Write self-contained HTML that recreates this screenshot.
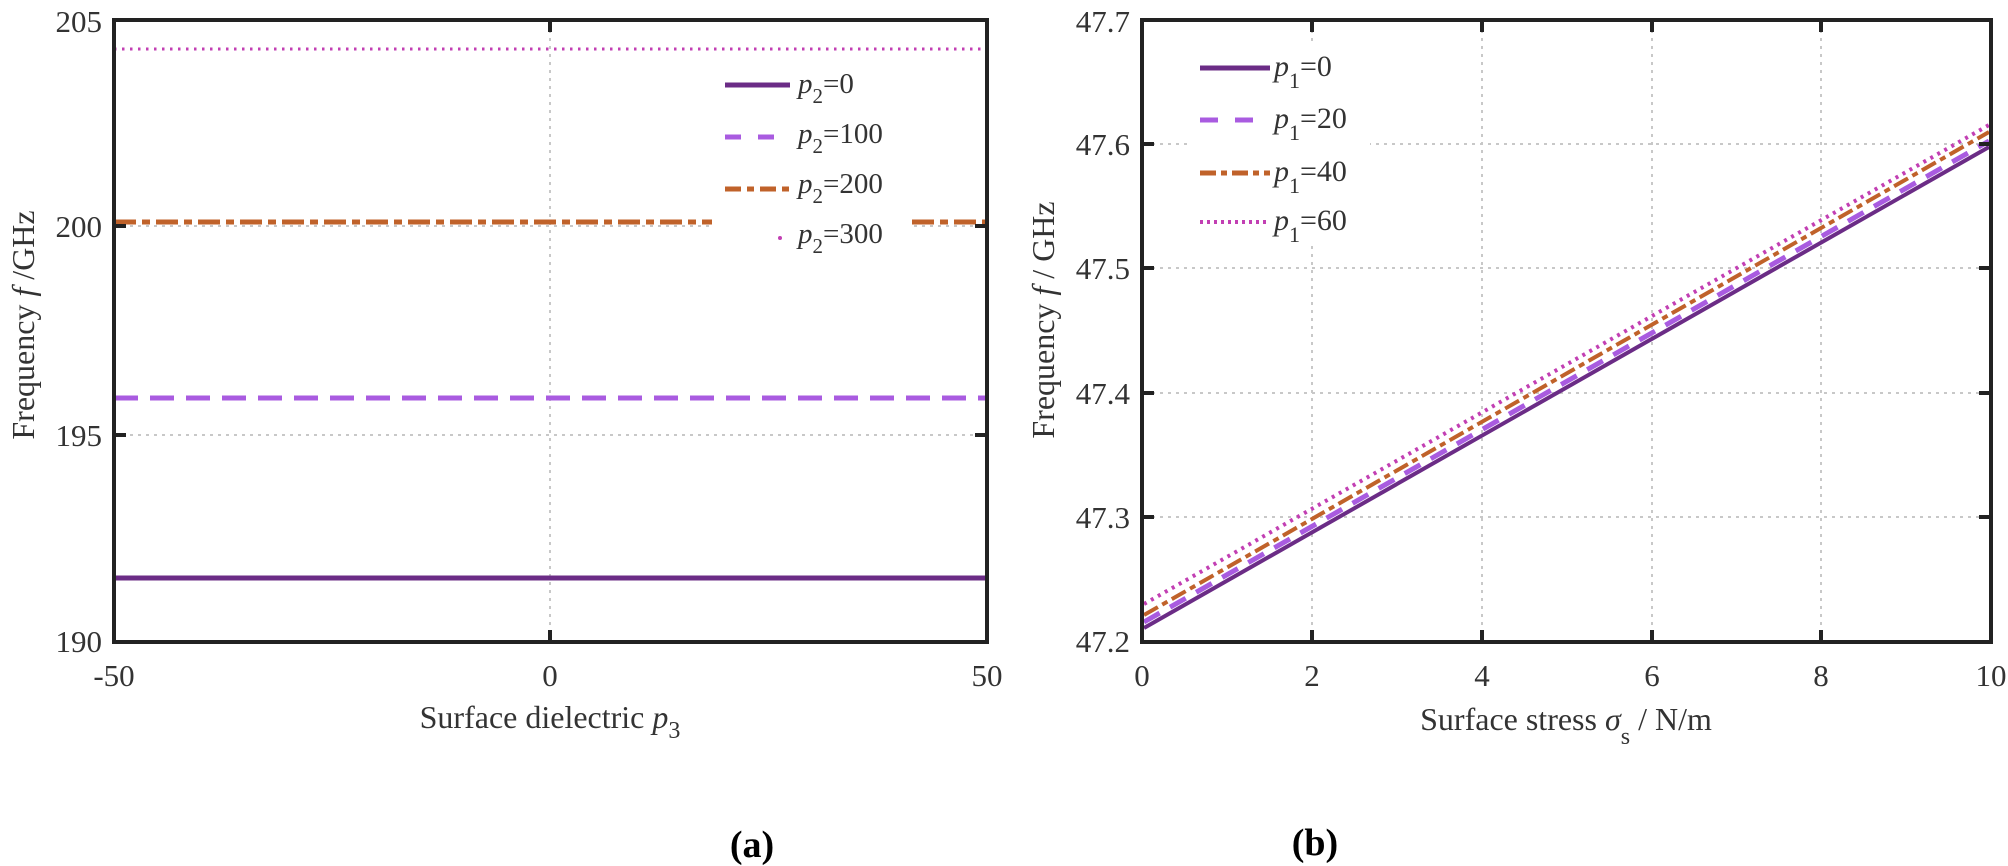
<!DOCTYPE html>
<html><head><meta charset="utf-8"><style>
html,body{margin:0;padding:0;background:#fff;}
svg{display:block;}
text{font-family:"Liberation Serif",serif;fill:#333;}
</style></head><body>
<svg width="2008" height="866" viewBox="0 0 2008 866" xmlns="http://www.w3.org/2000/svg">
<!-- LEFT PLOT -->
<g>
  <!-- grid -->
  <g stroke="#c8c8c8" stroke-width="2" stroke-dasharray="3,5">
    <line x1="550" y1="22" x2="550" y2="640"/>
    <line x1="114" y1="226" x2="986" y2="226"/>
    <line x1="114" y1="435" x2="986" y2="435"/>
  </g>
  <!-- series -->
  <line x1="114" y1="49" x2="986" y2="49" stroke="#c23fb3" stroke-width="3" stroke-dasharray="2.5,5.5"/>
  <line x1="114" y1="222" x2="986" y2="222" stroke="#c0622a" stroke-width="5" stroke-dasharray="22,6,8,6"/>
  <line x1="114" y1="398" x2="986" y2="398" stroke="#a95be0" stroke-width="5" stroke-dasharray="24,12"/>
  <line x1="114" y1="578" x2="986" y2="578" stroke="#6b2c86" stroke-width="5"/>
  <!-- legend -->
  <rect x="712" y="58" width="198" height="200" fill="#fff"/>
  <line x1="725" y1="85" x2="790" y2="85" stroke="#6b2c86" stroke-width="5"/>
  <line x1="725" y1="137" x2="790" y2="137" stroke="#a95be0" stroke-width="5" stroke-dasharray="16,17"/>
  <line x1="725" y1="189" x2="790" y2="189" stroke="#c0622a" stroke-width="5" stroke-dasharray="16,6,7,6"/>
  <circle cx="780" cy="238" r="2" fill="#c23fb3"/>
  <g font-size="29">
    <text x="798" y="93"><tspan font-style="italic">p</tspan><tspan font-size="21" dy="10">2</tspan><tspan dy="-10">=0</tspan></text>
    <text x="798" y="143"><tspan font-style="italic">p</tspan><tspan font-size="21" dy="10">2</tspan><tspan dy="-10">=100</tspan></text>
    <text x="798" y="193"><tspan font-style="italic">p</tspan><tspan font-size="21" dy="10">2</tspan><tspan dy="-10">=200</tspan></text>
    <text x="798" y="243"><tspan font-style="italic">p</tspan><tspan font-size="21" dy="10">2</tspan><tspan dy="-10">=300</tspan></text>
  </g>
  <!-- axes box -->
  <rect x="114" y="20" width="873" height="622" fill="none" stroke="#222" stroke-width="4"/>
  <g stroke="#222" stroke-width="4">
    <line x1="114" y1="226" x2="126" y2="226"/><line x1="114" y1="435" x2="126" y2="435"/>
    <line x1="987" y1="226" x2="975" y2="226"/><line x1="987" y1="435" x2="975" y2="435"/>
    <line x1="550" y1="642" x2="550" y2="630"/><line x1="550" y1="20" x2="550" y2="32"/>
  </g>
  <g font-size="31" text-anchor="end">
    <text x="102" y="32">205</text>
    <text x="102" y="237">200</text>
    <text x="102" y="446">195</text>
    <text x="102" y="652">190</text>
  </g>
  <g font-size="31" text-anchor="middle">
    <text x="114" y="686">-50</text>
    <text x="550" y="686">0</text>
    <text x="987" y="686">50</text>
  </g>
  <text x="550" y="728" font-size="32" text-anchor="middle">Surface dielectric <tspan font-style="italic">p</tspan><tspan font-size="24" dy="10">3</tspan></text>
  <text transform="translate(34,325) rotate(-90)" font-size="32" text-anchor="middle">Frequency <tspan font-style="italic">f</tspan> /GHz</text>
  <text x="752" y="857" font-size="38" font-weight="bold" text-anchor="middle" style="fill:#000">(a)</text>
</g>

<!-- RIGHT PLOT -->
<g>
  <g stroke="#c8c8c8" stroke-width="2" stroke-dasharray="3,5">
    <line x1="1312" y1="22" x2="1312" y2="640"/>
    <line x1="1482" y1="22" x2="1482" y2="640"/>
    <line x1="1652" y1="22" x2="1652" y2="640"/>
    <line x1="1821" y1="22" x2="1821" y2="640"/>
    <line x1="1144" y1="144" x2="1989" y2="144"/>
    <line x1="1144" y1="268" x2="1989" y2="268"/>
    <line x1="1144" y1="393" x2="1989" y2="393"/>
    <line x1="1144" y1="517" x2="1989" y2="517"/>
  </g>
  <line x1="1144" y1="628" x2="1989" y2="147" stroke="#6b2c86" stroke-width="4"/>
  <line x1="1144" y1="622" x2="1989" y2="141" stroke="#a95be0" stroke-width="5" stroke-dasharray="18,12"/>
  <line x1="1144" y1="615" x2="1989" y2="132" stroke="#c0622a" stroke-width="4" stroke-dasharray="16,5,6,5"/>
  <line x1="1144" y1="604" x2="1989" y2="125" stroke="#c23fb3" stroke-width="4" stroke-dasharray="3,5"/>
  <!-- legend -->
  <rect x="1188" y="45" width="182" height="200" fill="#fff"/>
  <line x1="1200" y1="68" x2="1270" y2="68" stroke="#6b2c86" stroke-width="5"/>
  <line x1="1200" y1="120" x2="1270" y2="120" stroke="#a95be0" stroke-width="5" stroke-dasharray="18,17"/>
  <line x1="1200" y1="173" x2="1270" y2="173" stroke="#c0622a" stroke-width="5" stroke-dasharray="16,5,6,5"/>
  <line x1="1200" y1="222" x2="1270" y2="222" stroke="#c23fb3" stroke-width="4" stroke-dasharray="3,4"/>
  <g font-size="30">
    <text x="1274" y="76"><tspan font-style="italic">p</tspan><tspan font-size="22" dy="12">1</tspan><tspan dy="-12">=0</tspan></text>
    <text x="1274" y="128"><tspan font-style="italic">p</tspan><tspan font-size="22" dy="12">1</tspan><tspan dy="-12">=20</tspan></text>
    <text x="1274" y="181"><tspan font-style="italic">p</tspan><tspan font-size="22" dy="12">1</tspan><tspan dy="-12">=40</tspan></text>
    <text x="1274" y="230"><tspan font-style="italic">p</tspan><tspan font-size="22" dy="12">1</tspan><tspan dy="-12">=60</tspan></text>
  </g>
  <rect x="1142" y="20" width="849" height="622" fill="none" stroke="#222" stroke-width="4"/>
  <g stroke="#222" stroke-width="4">
    <line x1="1142" y1="144" x2="1154" y2="144"/><line x1="1142" y1="268" x2="1154" y2="268"/>
    <line x1="1142" y1="393" x2="1154" y2="393"/><line x1="1142" y1="517" x2="1154" y2="517"/>
    <line x1="1991" y1="144" x2="1979" y2="144"/><line x1="1991" y1="268" x2="1979" y2="268"/>
    <line x1="1991" y1="393" x2="1979" y2="393"/><line x1="1991" y1="517" x2="1979" y2="517"/>
    <line x1="1312" y1="642" x2="1312" y2="630"/><line x1="1482" y1="642" x2="1482" y2="630"/>
    <line x1="1652" y1="642" x2="1652" y2="630"/><line x1="1821" y1="642" x2="1821" y2="630"/>
    <line x1="1312" y1="20" x2="1312" y2="32"/><line x1="1482" y1="20" x2="1482" y2="32"/>
    <line x1="1652" y1="20" x2="1652" y2="32"/><line x1="1821" y1="20" x2="1821" y2="32"/>
  </g>
  <g font-size="31" text-anchor="end">
    <text x="1130" y="32">47.7</text>
    <text x="1130" y="155">47.6</text>
    <text x="1130" y="279">47.5</text>
    <text x="1130" y="404">47.4</text>
    <text x="1130" y="528">47.3</text>
    <text x="1130" y="652">47.2</text>
  </g>
  <g font-size="31" text-anchor="middle">
    <text x="1142" y="686">0</text>
    <text x="1312" y="686">2</text>
    <text x="1482" y="686">4</text>
    <text x="1652" y="686">6</text>
    <text x="1821" y="686">8</text>
    <text x="1991" y="686">10</text>
  </g>
  <text x="1566" y="730" font-size="32" text-anchor="middle">Surface stress <tspan font-style="italic">σ</tspan><tspan font-size="24" dy="14">s</tspan><tspan dy="-14"> / N/m</tspan></text>
  <text transform="translate(1054,320) rotate(-90)" font-size="32" text-anchor="middle">Frequency <tspan font-style="italic">f</tspan> / GHz</text>
  <text x="1315" y="855" font-size="38" font-weight="bold" text-anchor="middle" style="fill:#000">(b)</text>
</g>
</svg>
</body></html>
